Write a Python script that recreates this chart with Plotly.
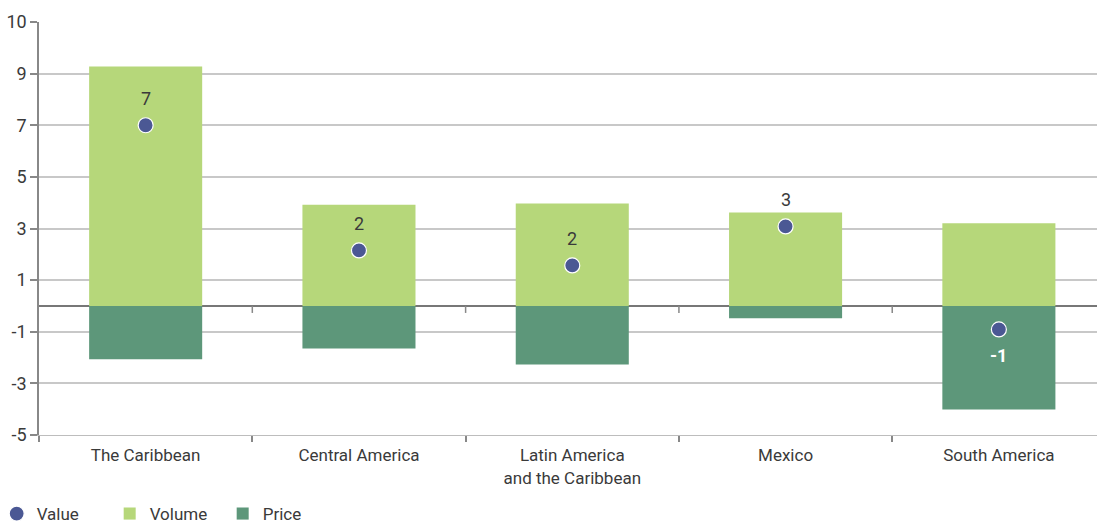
import plotly.graph_objects as go

# Regional export growth decomposition
regions = ["The Caribbean", "Central America", "Latin America<br>and the Caribbean", "Mexico", "South America"]
volume = [9.28, 3.92, 3.97, 3.62, 3.20]
price = [-2.07, -1.65, -2.27, -0.48, -4.01]
value = [7.0, 2.15, 1.57, 3.08, -0.91]

y_tickvals = [-5, -3, -1, 1, 3, 5, 7, 9, 11]
y_ticktext = ["-5", "-3", "-1", "1", "3", "5", "7", "9", "10"]

FONT = "Roboto"
TXT = "#3a3a3a"
GREEN_LIGHT = "#b6d77a"
GREEN_DARK = "#5d977a"
NAVY = "#4b5894"

fig = go.Figure()

fig.add_trace(go.Bar(
    x=regions, y=volume, name="Volume",
    marker=dict(color=GREEN_LIGHT, line=dict(width=0)),
    width=0.53, legendrank=2,
))
fig.add_trace(go.Bar(
    x=regions, y=price, name="Price",
    marker=dict(color=GREEN_DARK, line=dict(width=0)),
    width=0.53, legendrank=3,
))
fig.add_trace(go.Scatter(
    x=regions, y=value, name="Value", mode="markers",
    marker=dict(color=NAVY, size=15, line=dict(color="white", width=1.2)),
    legendrank=1,
))

# Value labels: above the dot when positive, below (inside the price bar) when negative
annotations = []
for r, v in zip(regions, value):
    neg = v < 0
    annotations.append(dict(
        x=r, y=v, xref="x", yref="y", showarrow=False,
        text=f"<b>{round(v)}</b>" if neg else f"{round(v)}",
        yshift=-26 if neg else 27,
        font=dict(family=FONT, size=18, color="white" if neg else TXT),
    ))

# Small category-boundary ticks hanging from the zero line
shapes = []
for i in range(len(regions) - 1):
    b = i + 0.5
    shapes.append(dict(
        type="line", xref="x", yref="y", x0=b, x1=b,
        ysizemode="pixel", yanchor=0, y0=0, y1=-7,
        line=dict(color="#888888", width=1.5),
    ))

fig.update_layout(
    width=1097, height=524,
    margin=dict(l=39, r=0, t=22, b=89, autoexpand=False),
    paper_bgcolor="white", plot_bgcolor="white",
    barmode="relative",
    font=dict(family=FONT, size=17, color=TXT),
    showlegend=True,
    legend=dict(
        orientation="h", x=-0.04, xanchor="left",
        yref="container", y=0.019, yanchor="middle",
        font=dict(family=FONT, size=17, color=TXT),
        itemwidth=30, traceorder="normal",
        entrywidth=68, entrywidthmode="pixels",
    ),
    annotations=annotations,
    shapes=shapes,
)

fig.update_xaxes(
    type="category", range=[-0.5, 4.46], automargin=False,
    showline=True, linecolor="#bdbdbd", linewidth=1,
    ticks="outside", tickson="boundaries", ticklen=6, tickcolor="#888888", tickwidth=1.5,
    ticklabelstandoff=5,
    showgrid=False,
    tickfont=dict(family=FONT, size=17, color=TXT),
)
fig.update_yaxes(
    range=[-5, 11], automargin=False,
    tickvals=y_tickvals, ticktext=y_ticktext,
    showline=True, linecolor="#888888", linewidth=1.5,
    ticks="outside", ticklen=7, tickcolor="#888888", tickwidth=1.5,
    showgrid=True, gridcolor="#c8c8c8", gridwidth=1.5,
    zeroline=True, zerolinecolor="#777777", zerolinewidth=1.5,
    tickfont=dict(family=FONT, size=18, color=TXT),
)

fig.write_html("out.html")
